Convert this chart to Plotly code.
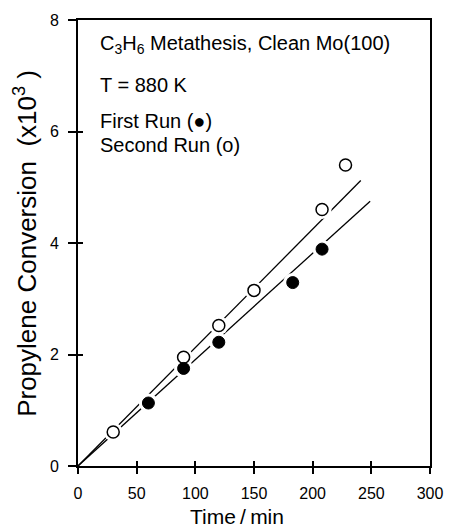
import plotly.graph_objects as go

# Data
second_x = [30, 90, 120, 150, 208, 228]
second_y = [0.61, 1.95, 2.52, 3.15, 4.60, 5.40]
first_x = [60, 90, 120, 183, 208]
first_y = [1.13, 1.75, 2.22, 3.29, 3.89]
# Fitted straight lines (endpoints)
fit_second_x = [0, 241]
fit_second_y = [0, 5.12]
fit_first_x = [0, 249]
fit_first_y = [0, 4.75]

x_ticks = [0, 50, 100, 150, 200, 250, 300]
y_ticks = [0, 2, 4, 6, 8]

FONT = "Liberation Sans, Arial, sans-serif"

fig = go.Figure()
# fit lines
fig.add_trace(go.Scatter(x=fit_second_x, y=fit_second_y, mode="lines",
                         line=dict(color="black", width=1.3), showlegend=False, hoverinfo="skip"))
fig.add_trace(go.Scatter(x=fit_first_x, y=fit_first_y, mode="lines",
                         line=dict(color="black", width=1.3), showlegend=False, hoverinfo="skip"))
# white halos to break lines near markers
fig.add_trace(go.Scatter(x=second_x + first_x, y=second_y + first_y, mode="markers",
                         marker=dict(size=19, color="white", line=dict(width=0)),
                         showlegend=False, hoverinfo="skip"))
# markers
fig.add_trace(go.Scatter(x=second_x, y=second_y, mode="markers", name="Second Run",
                         marker=dict(size=12, color="white", line=dict(color="black", width=1.5)),
                         showlegend=False))
fig.add_trace(go.Scatter(x=first_x, y=first_y, mode="markers", name="First Run",
                         marker=dict(size=12, color="black", line=dict(color="black", width=1)),
                         showlegend=False))
# invisible trace for overlay axes (inside tick halves)
fig.add_trace(go.Scatter(x=[0], y=[0], xaxis="x2", yaxis="y2", mode="markers",
                         marker=dict(opacity=0), showlegend=False, hoverinfo="skip"))

axis_common = dict(showgrid=False, zeroline=False, linecolor="black", linewidth=1.6,
                   tickcolor="black", tickwidth=1.5, mirror=True, showline=True,
                   tickfont=dict(family=FONT, size=16, color="black"))

fig.update_layout(
    width=455, height=531,
    margin=dict(l=78, r=18, t=17, b=65),
    paper_bgcolor="white", plot_bgcolor="white",
    xaxis=dict(range=[0, 300], tickvals=x_ticks, ticks="outside", ticklen=6,
               ticklabelstandoff=6, **axis_common),
    yaxis=dict(range=[0, 8], tickvals=y_ticks, ticks="outside", ticklen=8,
               ticklabelstandoff=6, **axis_common),
    xaxis2=dict(range=[0, 300], tickvals=x_ticks, ticks="inside", ticklen=5, tickwidth=1.5,
                tickcolor="black", showticklabels=False, showgrid=False, zeroline=False,
                overlaying="x", anchor="y", side="bottom"),
    yaxis2=dict(range=[0, 8], tickvals=y_ticks, ticks="inside", ticklen=5, tickwidth=1.5,
                tickcolor="black", showticklabels=False, showgrid=False, zeroline=False,
                overlaying="y", anchor="x", side="left"),
)

# axis titles as annotations (placed as in the reference)
fig.add_annotation(text="Time\u2009/\u2009min", xref="paper", yref="paper",
                   x=0.451, y=-0.114, xanchor="center", yanchor="middle", showarrow=False,
                   font=dict(family=FONT, size=21, color="black"))
fig.add_annotation(text="Propylene Conversion  (x10<sup>3</sup> )", xref="paper", yref="paper",
                   x=-0.151, y=0.50, xanchor="center", yanchor="middle", showarrow=False,
                   textangle=-90, font=dict(family=FONT, size=26, color="black"))

ann_font = dict(family=FONT, size=20, color="black")
texts = [
    ("C<sub>3</sub>H<sub>6</sub> Metathesis, Clean Mo(100)", 0.945),
    ("T = 880 K", 0.855),
    ("First Run (\u25CF)", 0.773),
    ("Second Run (o)", 0.720),
]
for t, yy in texts:
    fig.add_annotation(text=t, xref="paper", yref="paper", x=0.058, y=yy,
                       xanchor="left", yanchor="middle", showarrow=False, font=ann_font)

fig.write_html("out.html")
